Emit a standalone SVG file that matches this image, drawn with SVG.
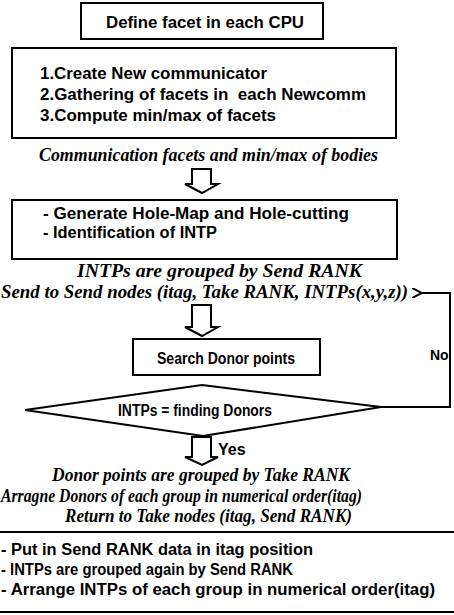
<svg xmlns="http://www.w3.org/2000/svg" width="454" height="615" viewBox="0 0 454 615">
<defs>
<style>
.box{fill:#fff;stroke:#000;stroke-width:2}
.t{font-family:"Liberation Sans",Arial,sans-serif;font-weight:bold;font-size:16px;fill:#000}
.s{font-size:14px}
.c{font-family:"Liberation Serif","Times New Roman",serif;font-weight:bold;font-style:italic;font-size:18px;fill:#000}
.m{text-anchor:middle}
.arr{fill:#fff;stroke:#000;stroke-width:2;stroke-linejoin:miter}
.ln{fill:none;stroke:#000;stroke-width:2}
</style>
<marker id="ah" viewBox="0 0 10 10" refX="1" refY="5" markerWidth="10" markerHeight="10" markerUnits="userSpaceOnUse" orient="auto-start-reverse">
<path d="M10,0 L0,5 L10,10" fill="none" stroke="#000" stroke-width="2"/>
</marker>
</defs>
<rect width="454" height="615" fill="#fff"/>

<g id="define-facet">
<rect class="box" x="81" y="3" width="242" height="36"/>
<text class="t" x="106" y="28" textLength="198" lengthAdjust="spacingAndGlyphs">Define facet in each CPU</text>
</g>

<g id="communicator">
<rect class="box" x="12" y="48" width="384" height="90"/>
<text class="t" x="40" y="79" textLength="227" lengthAdjust="spacingAndGlyphs">1.Create New communicator</text>
<text class="t" x="40" y="100" textLength="326" lengthAdjust="spacingAndGlyphs" xml:space="preserve">2.Gathering of facets in  each Newcomm</text>
<text class="t" x="40" y="121" textLength="236" lengthAdjust="spacingAndGlyphs">3.Compute min/max of facets</text>
</g>

<g id="caption-1">
<text class="c" x="39" y="161" textLength="339" lengthAdjust="spacingAndGlyphs">Communication facets and min/max of bodies</text>
</g>

<g id="hole-map">
<rect class="box" x="12" y="200" width="385" height="59"/>
<text class="t" x="43" y="219" textLength="306" lengthAdjust="spacingAndGlyphs">- Generate Hole-Map and Hole-cutting</text>
<text class="t" x="43" y="238" textLength="174" lengthAdjust="spacingAndGlyphs">- Identification of INTP</text>
</g>

<g id="caption-2">
<text class="c" x="77" y="277" textLength="285" lengthAdjust="spacingAndGlyphs">INTPs are grouped by Send RANK</text>
<text class="c" x="1" y="298" textLength="407" lengthAdjust="spacingAndGlyphs">Send to Send nodes (itag, Take RANK, INTPs(x,y,z))</text>
</g>

<g id="search-donor">
<rect class="box" x="133" y="339" width="187" height="36"/>
<text class="t" x="157" y="364" textLength="138" lengthAdjust="spacingAndGlyphs">Search Donor points</text>
</g>

<g id="decision">
<polygon class="box" points="25,410 202,385 381,407 203,436"/>
<text class="t" x="118" y="416" textLength="154" lengthAdjust="spacingAndGlyphs">INTPs = finding Donors</text>
</g>

<g id="caption-3">
<text class="c" x="52" y="481" textLength="298" lengthAdjust="spacingAndGlyphs">Donor points are grouped by Take RANK</text>
<text class="c" x="1" y="502" textLength="361" lengthAdjust="spacingAndGlyphs">Arragne Donors of each group in numerical order(itag)</text>
<text class="c" x="65" y="522" textLength="287" lengthAdjust="spacingAndGlyphs">Return to Take nodes (itag, Send RANK)</text>
</g>

<g id="put-in">
<rect class="box" x="-5" y="532" width="464" height="80"/>
<text class="t" x="1" y="555" textLength="312" lengthAdjust="spacingAndGlyphs">- Put in Send RANK data in itag position</text>
<text class="t" x="1" y="575" textLength="292" lengthAdjust="spacingAndGlyphs">- INTPs are grouped again by Send RANK</text>
<text class="t" x="1" y="595" textLength="434" lengthAdjust="spacingAndGlyphs">- Arrange INTPs of each group in numerical order(itag)</text>
</g>

<g id="connectors">
<polygon class="arr" points="192,169 211,169 211,184 218,184 202,193 185,184 192,184"/>
<polygon class="arr" points="192,305 211,305 211,327 218,327 202,336 185,327 192,327"/>
<polygon class="arr" points="192,437 211,437 211,457 218,457 202,465 185,457 192,457"/>
<path class="ln" d="M381,407 H450 V293 H421" marker-end="url(#ah)"/>
<text class="t s" x="430" y="360">No</text>
<text class="t" x="218" y="455">Yes</text>
</g>
</svg>
